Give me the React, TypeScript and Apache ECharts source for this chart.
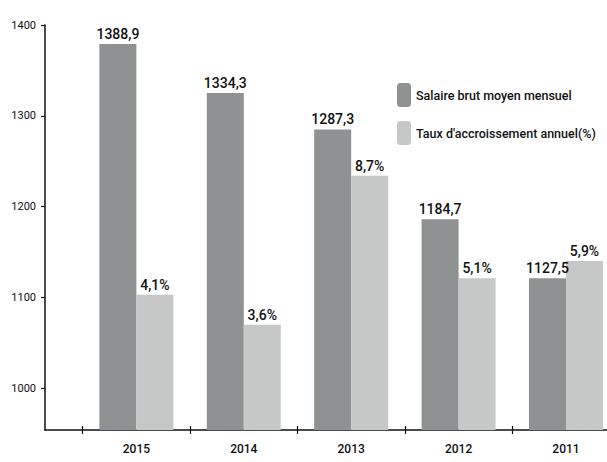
import React, { useEffect, useRef } from "react";
import * as echarts from "echarts";

const years = ["2015", "2014", "2013", "2012", "2011"];
const salaryLabels = [1388.9, 1334.3, 1287.3, 1184.7, 1127.5];
const salaryHeights = [1379, 1325, 1285, 1186, 1121];
const growthLabels = [4.1, 3.6, 8.7, 5.1, 5.9];
const growthHeights = [1103, 1070, 1234, 1121, 1140];
const yTicks = [1000, 1100, 1200, 1300, 1400];
const xTickPositions = [-0.5, 0.5, 1.5, 2.5, 3.5];

const FONT = "Roboto, 'Liberation Sans Narrow', sans-serif";
const fmt = (v: number) => v.toFixed(1).replace(".", ",");

export default function App() {
  const ref = useRef<HTMLDivElement>(null);
  useEffect(() => {
    if (!ref.current) return;
    const chart = echarts.init(ref.current, null, { renderer: "svg" });
    const xCommon = {
      type: "value",
      min: -0.851,
      max: 4.382,
      splitLine: { show: false },
    };
    chart.setOption({
      animation: false,
      backgroundColor: "#ffffff",
      grid: { left: 45, top: 25, right: 0, bottom: 32, containLabel: false },
      legend: {
        orient: "vertical",
        left: 397,
        top: 83,
        padding: 0,
        itemWidth: 14,
        itemHeight: 24,
        itemGap: 14,
        textStyle: { fontFamily: FONT, fontSize: 12.5, color: "#111", fontWeight: 500 },
        data: ["Salaire brut moyen mensuel", "Taux d'accroissement annuel(%)"],
      },
      xAxis: [
        {
          ...xCommon,
          position: "bottom",
          axisLine: { show: true, onZero: false, lineStyle: { color: "#111", width: 1.5 } },
          axisTick: {
            show: true,
            customValues: xTickPositions,
            length: 4,
            lineStyle: { color: "#111", width: 1.2 },
          },
          axisLabel: {
            customValues: years.map((_, i) => i),
            formatter: (v: number) => years[Math.round(v)] ?? "",
            fontFamily: FONT,
            fontSize: 12,
            fontWeight: 500,
            color: "#111",
            margin: 13,
          },
        },
        {
          ...xCommon,
          position: "bottom",
          axisLine: { show: false, onZero: false },
          axisTick: {
            show: true,
            inside: true,
            customValues: xTickPositions,
            length: 4,
            lineStyle: { color: "#111", width: 1.2 },
          },
          axisLabel: { show: false },
        },
      ],
      yAxis: {
        type: "value",
        min: 954,
        max: 1400,
        splitLine: { show: false },
        axisLine: { show: true, onZero: false, lineStyle: { color: "#111", width: 1.5 } },
        axisTick: {
          show: true,
          customValues: yTicks,
          length: 4,
          lineStyle: { color: "#111", width: 1.2 },
        },
        axisLabel: {
          customValues: yTicks,
          formatter: (v: number) => String(v),
          fontFamily: FONT,
          fontSize: 11,
          color: "#111",
          margin: 9,
        },
      },
      series: [
        {
          name: "Salaire brut moyen mensuel",
          type: "bar",
          xAxisIndex: 0,
          barWidth: 37,
          barGap: "0%",
          itemStyle: { color: "#8f9293" },
          label: {
            show: true,
            position: "top",
            distance: 3,
            fontFamily: FONT,
            fontSize: 14,
            fontWeight: 500,
            color: "#111",
            formatter: (p: any) => fmt(salaryLabels[p.dataIndex]),
          },
          data: salaryHeights.map((v, i) => [i, v]),
        },
        {
          name: "Taux d'accroissement annuel(%)",
          type: "bar",
          xAxisIndex: 0,
          barWidth: 37,
          barGap: "0%",
          itemStyle: { color: "#c6c8c8" },
          label: {
            show: true,
            position: "top",
            distance: 3,
            fontFamily: FONT,
            fontSize: 14,
            fontWeight: 500,
            color: "#111",
            formatter: (p: any) => fmt(growthLabels[p.dataIndex]) + "%",
          },
          data: growthHeights.map((v, i) => [i, v]),
        },
      ],
    });
    return () => chart.dispose();
  }, []);
  return <div ref={ref} style={{ width: 607, height: 462, position: "absolute", left: 0, top: 0 }} />;
}
